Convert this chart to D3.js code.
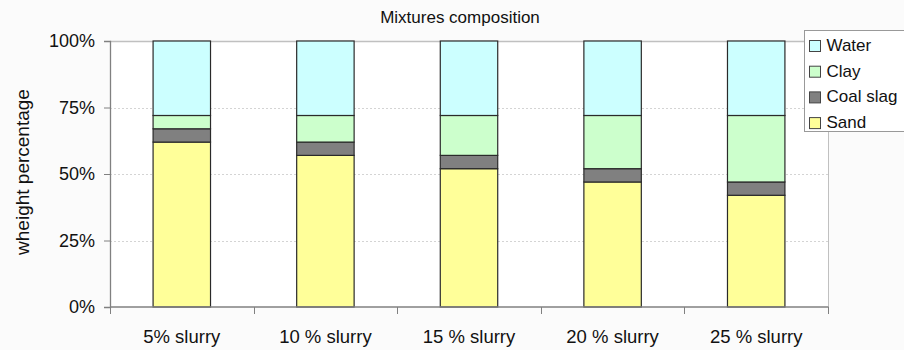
<!DOCTYPE html>
<html>
<head>
<meta charset="utf-8">
<script src="https://cdn.jsdelivr.net/npm/d3@7"></script>
<style>
  html, body { margin: 0; padding: 0; background: #fbfbfb; }
  svg { display: block; font-family: "Liberation Sans", Arial, sans-serif; }
</style>
</head>
<body>
<svg id="chart" width="904" height="350"></svg>
<script>
const categories = ["5% slurry", "10 % slurry", "15 % slurry", "20 % slurry", "25 % slurry"];
const sand = [62, 57, 52, 47, 42];
const coalSlag = [5, 5, 5, 5, 5];
const clay = [5, 10, 15, 20, 25];
const water = [28, 28, 28, 28, 28];
const seriesNames = ["Sand", "Coal slag", "Clay", "Water"];
const seriesColors = ["#FFFF99", "#808080", "#CCFFCC", "#CCFFFF"];
const yTicks = [0, 25, 50, 75, 100];
const title = "Mixtures composition";
const yLabel = "wheight percentage";

const svg = d3.select("#chart");
const m = { left: 110, right: 828, top: 41, bottom: 307 };

const rows = categories.map((c, i) => ({ cat: c, Sand: sand[i], "Coal slag": coalSlag[i], Clay: clay[i], Water: water[i] }));
const stack = d3.stack().keys(seriesNames).offset(d3.stackOffsetExpand);
const stacked = stack(rows);

const x = d3.scaleBand().domain(categories).range([m.left, m.right]).paddingInner(0.6).paddingOuter(0.3);
const y = d3.scaleLinear().domain([0, 1]).range([m.bottom, m.top]);
const color = d3.scaleOrdinal().domain(seriesNames).range(seriesColors);

// plot background
svg.append("rect").attr("x", m.left).attr("y", m.top).attr("width", m.right - m.left).attr("height", m.bottom - m.top).attr("fill", "#ffffff");

// title
svg.append("text").attr("x", 460).attr("y", 23).attr("text-anchor", "middle").attr("font-size", 17).attr("fill", "#111").text(title);

// gridlines
svg.append("g").selectAll("line").data(yTicks.filter(t => t > 0)).join("line")
  .attr("x1", m.left).attr("x2", m.right)
  .attr("y1", d => Math.round(y(d / 100)) + 0.5).attr("y2", d => Math.round(y(d / 100)) + 0.5)
  .attr("stroke", d => d === 100 ? "#c0c0c0" : "#d4d4d4")
  .attr("stroke-width", d => d === 100 ? 1.5 : 1)
  .attr("stroke-dasharray", d => d === 100 ? null : "2,2");

// right border
svg.append("line").attr("x1", m.right + 0.5).attr("x2", m.right + 0.5).attr("y1", m.top).attr("y2", m.bottom).attr("stroke", "#c0c0c0");

// bars
svg.append("g").selectAll("g").data(stacked).join("g")
  .attr("fill", d => color(d.key))
  .selectAll("rect").data(d => d).join("rect")
  .attr("x", d => x(d.data.cat))
  .attr("y", d => y(d[1]))
  .attr("width", x.bandwidth())
  .attr("height", d => y(d[0]) - y(d[1]))
  .attr("stroke", "#2a2a2a")
  .attr("stroke-width", 1.2);

// y axis
const yAxis = d3.axisLeft(y).tickValues(yTicks.map(t => t / 100)).tickFormat(d => d3.format(".0%")(d)).tickSize(6).tickPadding(9);
const gy = svg.append("g").attr("transform", `translate(${m.left},0)`).call(yAxis);
gy.select(".domain").attr("stroke", "#808080").attr("stroke-width", 1.3);
gy.selectAll(".tick line").attr("stroke", "#808080");
gy.selectAll("text").attr("font-size", 18).attr("fill", "#111").attr("font-family", "Liberation Sans, Arial, sans-serif");

// x axis
const gx = svg.append("g").attr("transform", `translate(0,${m.bottom})`);
gx.append("line").attr("x1", m.left).attr("x2", m.right + 0.5).attr("y1", 0).attr("y2", 0).attr("stroke", "#808080").attr("stroke-width", 1.3);
const bounds = d3.range(categories.length + 1).map(i => m.left + i * x.step());
gx.selectAll("line.tk").data(bounds).join("line").attr("class", "tk")
  .attr("x1", d => Math.round(d) + 0.5).attr("x2", d => Math.round(d) + 0.5).attr("y1", 0).attr("y2", 7).attr("stroke", "#808080");
gx.selectAll("text").data(categories).join("text")
  .attr("x", d => x(d) + x.bandwidth() / 2).attr("y", 36)
  .attr("text-anchor", "middle").attr("font-size", 18.5).attr("fill", "#111").text(d => d);

// y label
svg.append("text").attr("transform", "translate(29,172) rotate(-90)").attr("text-anchor", "middle")
  .attr("font-size", 19).attr("fill", "#111").text(yLabel);

// legend
const lg = svg.append("g");
lg.append("rect").attr("x", 804.5).attr("y", 30.5).attr("width", 110).attr("height", 101).attr("fill", "#ffffff").attr("stroke", "#999").attr("stroke-width", 1);
const legendItems = seriesNames.slice().reverse();
const li = lg.selectAll("g").data(legendItems).join("g").attr("transform", (d, i) => `translate(809,${40 + i * 25.7})`);
li.append("rect").attr("x", 0.5).attr("y", 0.5).attr("width", 11).attr("height", 11).attr("fill", d => color(d)).attr("stroke", "#444");
li.append("text").attr("x", 17.5).attr("y", 11).attr("font-size", 17).attr("fill", "#111").text(d => d);
</script>
</body>
</html>
